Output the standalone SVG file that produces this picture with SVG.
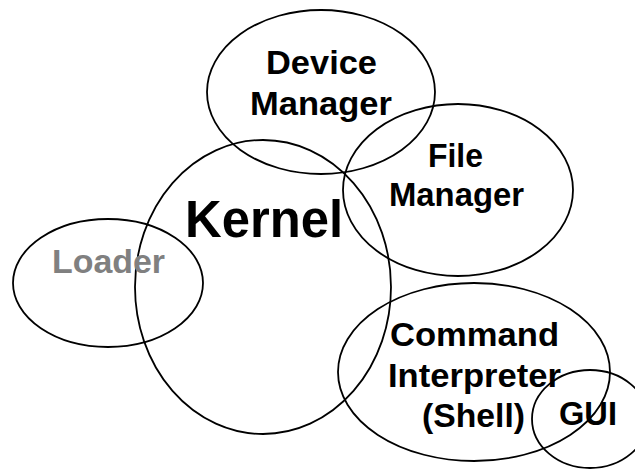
<svg xmlns="http://www.w3.org/2000/svg" width="635" height="472" viewBox="0 0 635 472">
<style>
.shape{fill:none;stroke:#000;stroke-width:1.8}
.lbl{font-family:"Liberation Sans",Arial,sans-serif;font-weight:bold;font-size:33px;fill:#000}
.big{font-size:51px}
.grey{fill:#808080}
</style>
<rect width="635" height="472" fill="#fff"/>
<g id="kernel">
<ellipse class="shape" cx="263" cy="287" rx="128" ry="147"/>
<text class="lbl big" x="185" y="237" textLength="158" lengthAdjust="spacingAndGlyphs">Kernel</text>
</g>
<g id="device-manager">
<ellipse class="shape" cx="321" cy="92" rx="114" ry="82"/>
<text class="lbl" x="266" y="74" textLength="111" lengthAdjust="spacingAndGlyphs">Device</text>
<text class="lbl" x="250" y="115" textLength="142" lengthAdjust="spacingAndGlyphs">Manager</text>
</g>
<g id="file-manager">
<ellipse class="shape" cx="458" cy="190" rx="115" ry="86"/>
<text class="lbl" x="428" y="167" textLength="55" lengthAdjust="spacingAndGlyphs">File</text>
<text class="lbl" x="389" y="206" textLength="135" lengthAdjust="spacingAndGlyphs">Manager</text>
</g>
<g id="loader">
<ellipse class="shape" cx="108" cy="283" rx="95" ry="64"/>
<text class="lbl grey" x="52" y="273" textLength="113" lengthAdjust="spacingAndGlyphs">Loader</text>
</g>
<g id="command-interpreter">
<ellipse class="shape" cx="474" cy="372" rx="136" ry="89"/>
<text class="lbl" x="390" y="346" textLength="169" lengthAdjust="spacingAndGlyphs">Command</text>
<text class="lbl" x="388" y="387" textLength="173" lengthAdjust="spacingAndGlyphs">Interpreter</text>
<text class="lbl" x="422" y="427" textLength="103" lengthAdjust="spacingAndGlyphs">(Shell)</text>
</g>
<g id="gui">
<ellipse class="shape" cx="590" cy="419" rx="58" ry="49"/>
<text class="lbl" x="559" y="425" textLength="58" lengthAdjust="spacingAndGlyphs">GUI</text>
</g>
<g id="connectors"></g>
</svg>
